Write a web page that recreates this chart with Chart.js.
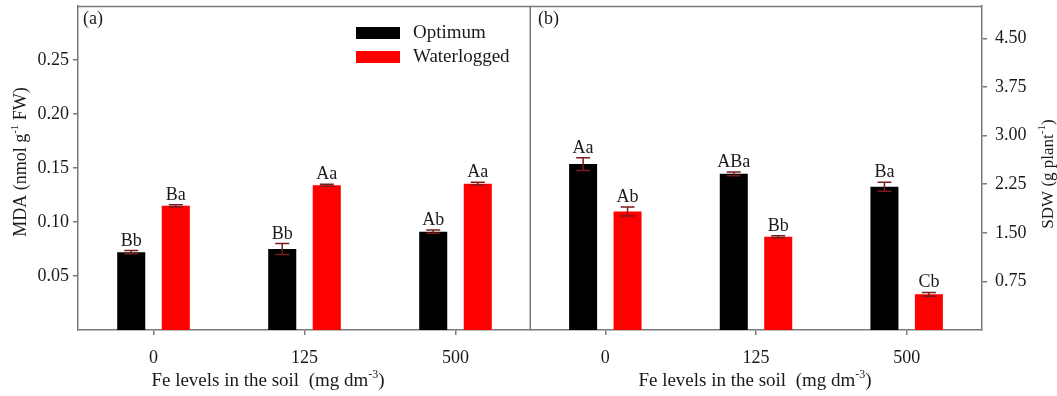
<!DOCTYPE html>
<html><head><meta charset="utf-8">
<script src="https://cdn.jsdelivr.net/npm/chart.js@4"></script>
<style>
html,body{margin:0;padding:0;background:#fff;}
#wrap{position:relative;width:1057px;height:396px;overflow:hidden;background:#fff;}
#c1{position:absolute;left:0;top:0;}
#c2{position:absolute;left:530px;top:0;}
</style></head><body>
<div id="wrap"><canvas id="c1" width="531" height="396"></canvas><canvas id="c2" width="527" height="396"></canvas></div>
<script>
// ---- data ----
const categories = ['0', '125', '500'];
const seriesNames = ['Optimum', 'Waterlogged'];
const mdaOptimum = [0.072, 0.075, 0.091];
const mdaOptimumErr = [0.0015, 0.005, 0.0015];
const mdaWaterlogged = [0.115, 0.134, 0.1355];
const mdaWaterloggedErr = [0.001, 0.001, 0.0012];
const mdaOptLetters = ['Bb', 'Bb', 'Ab'];
const mdaWatLetters = ['Ba', 'Aa', 'Aa'];
const sdwOptimum = [2.56, 2.41, 2.21];
const sdwOptimumErr = [0.10, 0.03, 0.07];
const sdwWaterlogged = [1.83, 1.44, 0.55];
const sdwWaterloggedErr = [0.07, 0.015, 0.03];
const sdwOptLetters = ['Aa', 'ABa', 'Ba'];
const sdwWatLetters = ['Ab', 'Bb', 'Cb'];
const mdaTicks = [0.05, 0.10, 0.15, 0.20, 0.25];
const sdwTicks = [0.75, 1.50, 2.25, 3.00, 3.75, 4.50];
const panelLabels = ['(a)', '(b)'];

const FONT = 'Liberation Serif, Times New Roman, serif';
const AXIS = '#7a7a7a';
const TXT = '#1a1a1a';
const ERRC = '#7a1c1c';
const COLORS = ['#000000', '#ff0000'];

function drawSupText(ctx, parts, cx, cy, size, rotate) {
  ctx.save();
  ctx.translate(cx, cy);
  if (rotate) ctx.rotate(-Math.PI / 2);
  const supSize = Math.round(size * 0.62);
  let total = 0;
  const widths = parts.map(p => {
    ctx.font = (p[1] ? supSize : size) + 'px ' + FONT;
    const w = ctx.measureText(p[0]).width;
    total += w;
    return w;
  });
  let x = -total / 2;
  ctx.fillStyle = TXT;
  ctx.textBaseline = 'alphabetic';
  ctx.textAlign = 'left';
  const base = size * 0.33;
  parts.forEach((p, i) => {
    ctx.font = (p[1] ? supSize : size) + 'px ' + FONT;
    ctx.fillText(p[0], x, p[1] ? base - size * 0.42 : base);
    x += widths[i];
  });
  ctx.restore();
}

function makeDecor(opts) {
  return {
    id: 'decor' + opts.id,
    afterDatasetsDraw(chart) {
      const ctx = chart.ctx;
      const ys = chart.scales.y;
      const ca = chart.chartArea;
      chart.data.datasets.forEach((ds, di) => {
        const meta = chart.getDatasetMeta(di);
        meta.data.forEach((el, i) => {
          const v = ds.data[i], e = opts.errs[di][i];
          const yt = ys.getPixelForValue(v + e);
          const yb = ys.getPixelForValue(v - e);
          ctx.save();
          ctx.strokeStyle = ERRC;
          ctx.lineWidth = 1.5;
          ctx.beginPath();
          ctx.moveTo(el.x, yt); ctx.lineTo(el.x, yb);
          ctx.moveTo(el.x - 7, yt); ctx.lineTo(el.x + 7, yt);
          ctx.moveTo(el.x - 7, yb); ctx.lineTo(el.x + 7, yb);
          ctx.stroke();
          ctx.fillStyle = TXT;
          ctx.font = '18px ' + FONT;
          ctx.textAlign = 'center';
          ctx.textBaseline = 'alphabetic';
          ctx.fillText(opts.letters[di][i], el.x, yt - 5);
          ctx.restore();
        });
      });
      ctx.save();
      ctx.strokeStyle = AXIS;
      ctx.lineWidth = 1.5;
      ctx.beginPath();
      ctx.moveTo(ca.left, ca.top + 0.5); ctx.lineTo(ca.right, ca.top + 0.5);
      if (opts.id === 1) { ctx.moveTo(ca.right - 0.75, ca.top); ctx.lineTo(ca.right - 0.75, ca.bottom); }
      ctx.stroke();
      ctx.restore();
      ctx.save();
      ctx.fillStyle = TXT;
      ctx.font = '18px ' + FONT;
      ctx.textAlign = 'left';
      ctx.textBaseline = 'middle';
      ctx.fillText(opts.panel, ca.left + (opts.id === 1 ? 5 : 8), 19);
      ctx.restore();
      drawSupText(ctx, [['Fe levels in the soil  (mg dm', false], ['-3', true], [')', false]], opts.xTitleX, 380, 19, false);
      drawSupText(ctx, opts.yTitle, opts.yTitleX, opts.yTitleY, opts.yTitleSize, true);
      if (opts.id === 1) {
        ctx.save();
        chart.data.datasets.forEach((ds, di) => {
          const yc = 33 + di * 24;
          ctx.fillStyle = ds.backgroundColor;
          ctx.fillRect(356, yc - 6, 44, 12);
          ctx.fillStyle = TXT;
          ctx.font = '19px ' + FONT;
          ctx.textAlign = 'left';
          ctx.textBaseline = 'middle';
          ctx.fillText(ds.label, 413, yc);
        });
        ctx.restore();
      }
    }
  };
}

function makeChart(canvasId, opts) {
  return new Chart(document.getElementById(canvasId), {
    type: 'bar',
    data: {
      labels: categories,
      datasets: [
        { label: seriesNames[0], data: opts.data[0], backgroundColor: COLORS[0], categoryPercentage: 0.59, barPercentage: 0.63 },
        { label: seriesNames[1], data: opts.data[1], backgroundColor: COLORS[1], categoryPercentage: 0.59, barPercentage: 0.63 }
      ]
    },
    options: {
      responsive: false,
      devicePixelRatio: 1,
      animation: false,
      layout: { padding: { top: 6, left: 0, right: 0, bottom: 0 } },
      plugins: { legend: { display: false }, tooltip: { enabled: false } },
      scales: {
        x: {
          type: 'category',
          grid: { offset: false, drawOnChartArea: false, tickLength: 5, color: AXIS, lineWidth: 1.5 },
          border: { display: true, color: AXIS, width: 1.5 },
          ticks: { font: { family: FONT, size: 18 }, color: TXT, padding: 12, maxRotation: 0 },
          afterFit: s => { s.height = 66; s.paddingLeft = 0; s.paddingRight = 0; }
        },
        y: {
          position: opts.yPos,
          min: 0, max: opts.max,
          afterBuildTicks: s => { s.ticks = opts.ticks.map(v => ({ value: v })); },
          grid: { drawOnChartArea: false, tickLength: 5, color: AXIS, lineWidth: 1.5 },
          border: { display: true, color: AXIS, width: 1.5 },
          ticks: { font: { family: FONT, size: 18 }, color: TXT, padding: opts.yPad, callback: v => Number(v).toFixed(2) },
          afterFit: s => { s.width = opts.yWidth; s.paddingTop = 0; s.paddingBottom = 0; }
        }
      }
    },
    plugins: [makeDecor(opts)]
  });
}

makeChart('c1', {
  id: 1, data: [mdaOptimum, mdaWaterlogged], errs: [mdaOptimumErr, mdaWaterloggedErr],
  letters: [mdaOptLetters, mdaWatLetters], ticks: mdaTicks, max: 0.30, yPos: 'left', yWidth: 78, yPad: 4,
  panel: panelLabels[0], xTitleX: 268, yTitleX: 20, yTitleY: 162, yTitleSize: 18,
  yTitle: [['MDA (nmol g', false], ['-1', true], [' FW)', false]]
});
makeChart('c2', {
  id: 2, data: [sdwOptimum, sdwWaterlogged], errs: [sdwOptimumErr, sdwWaterloggedErr],
  letters: [sdwOptLetters, sdwWatLetters], ticks: sdwTicks, max: 5.0, yPos: 'right', yWidth: 75, yPad: 8,
  panel: panelLabels[1], xTitleX: 225, yTitleX: 517, yTitleY: 174, yTitleSize: 17,
  yTitle: [['SDW (g plant', false], ['-1', true], [')', false]]
});
</script>
</body></html>
